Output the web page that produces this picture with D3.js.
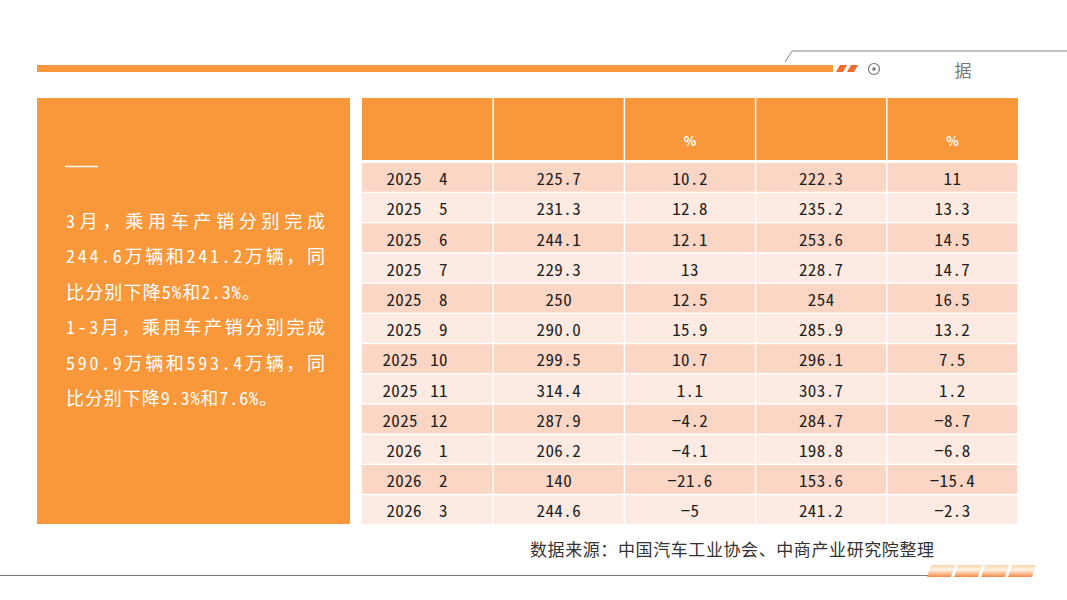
<!DOCTYPE html>
<html>
<head>
<meta charset="utf-8">
<script src="https://cdn.jsdelivr.net/npm/d3@7"></script>
<style>
  html, body { margin: 0; padding: 0; background: #fff; }
  svg { display: block; }
</style>
</head>
<body>
<svg id="slide"></svg>
<script>
// ===== DATA =====
const years     = ["2025","2025","2025","2025","2025","2025","2025","2025","2025","2026","2026","2026"];
const months    = ["4","5","6","7","8","9","10","11","12","1","2","3"];
const output    = ["225.7","231.3","244.1","229.3","250","290.0","299.5","314.4","287.9","206.2","140","244.6"];
const outputYoY = ["10.2","12.8","12.1","13","12.5","15.9","10.7","1.1","-4.2","-4.1","-21.6","-5"];
const sales     = ["222.3","235.2","253.6","228.7","254","285.9","296.1","303.7","284.7","198.8","153.6","241.2"];
const salesYoY  = ["11","13.3","14.5","14.7","16.5","13.2","7.5","1.2","-8.7","-6.8","-15.4","-2.3"];
const headers   = ["", "", "%", "", "%"];

// line width in px as it is set in the slide (justified lines are full width)
const summary = [
    { t: "3月，乘用车产销分别完成", w: 259 },
    { t: "244.6万辆和241.2万辆，同", w: 259 },
    { t: "比分别下降5%和2.3%。", w: 194 },
    { t: "1-3月，乘用车产销分别完成", w: 259 },
    { t: "590.9万辆和593.4万辆，同", w: 259 },
    { t: "比分别下降9.3%和7.6%。", w: 211 }
];
const sourceNote = "数据来源：中国汽车工业协会、中商产业研究院整理";
const cornerTitle = "据";

// ===== SETUP =====
const W = 1067, H = 600;
const ORANGE = "#f8983b";
const ROW_DARK = "#fbd6c5", ROW_LIGHT = "#fdeae2";
const monoFont = "'Noto Sans Mono CJK SC', 'Noto Sans CJK SC', sans-serif";
const cjkFont = "'Noto Sans CJK SC', sans-serif";

const svg = d3.select("#slide")
    .attr("width", W)
    .attr("height", H);

const defs = svg.append("defs");
const grad = defs.append("linearGradient")
    .attr("id", "tabGrad")
    .attr("x1", 0).attr("y1", 0).attr("x2", 0).attr("y2", 1);
grad.append("stop").attr("offset", "0%").attr("stop-color", "#fbd2a8");
grad.append("stop").attr("offset", "40%").attr("stop-color", "#fff4e6");
grad.append("stop").attr("offset", "100%").attr("stop-color", "#f58a45");

// ===== TOP DECORATION =====
svg.append("rect")
    .attr("x", 37).attr("y", 65)
    .attr("width", 796).attr("height", 7)
    .attr("fill", ORANGE);

// the two slashes after the bar
[836, 847].forEach(x0 => {
    svg.append("path")
        .attr("d", `M${x0 + 4},65 L${x0 + 11},65 L${x0 + 7},72 L${x0},72 Z`)
        .attr("fill", "#f26b2a");
});

svg.append("path")
    .attr("d", "M785,62 L792,51 L1067,51")
    .attr("fill", "none")
    .attr("stroke", "#888")
    .attr("stroke-width", 1);

svg.append("circle")
    .attr("cx", 874).attr("cy", 69).attr("r", 5.5)
    .attr("fill", "none").attr("stroke", "#777").attr("stroke-width", 1.2);
svg.append("circle")
    .attr("cx", 874).attr("cy", 69).attr("r", 1.8)
    .attr("fill", "#777");

svg.append("text")
    .attr("x", 963).attr("y", 69)
    .attr("text-anchor", "middle")
    .attr("dominant-baseline", "central")
    .attr("font-family", cjkFont)
    .attr("font-size", 17)
    .attr("fill", "#777")
    .text(cornerTitle);

// ===== LEFT SUMMARY BOX =====
svg.append("rect")
    .attr("x", 37).attr("y", 98)
    .attr("width", 313).attr("height", 426)
    .attr("fill", ORANGE);

svg.append("line")
    .attr("x1", 65).attr("x2", 98)
    .attr("y1", 166.5).attr("y2", 166.5)
    .attr("stroke", "#fff").attr("stroke-width", 1.3);

const lineY = d3.scaleLinear().domain([0, summary.length - 1]).range([220, 397]);

svg.append("g")
    .selectAll("text")
    .data(summary)
    .join("text")
    .attr("x", 66)
    .attr("y", (d, i) => lineY(i))
    .attr("dominant-baseline", "central")
    .attr("font-family", monoFont)
    .attr("font-size", 18)
    .attr("fill", "#fff")
    .attr("textLength", d => d.w)
    .attr("lengthAdjust", "spacing")
    .text(d => d.t);

// ===== TABLE =====
const rows = years.map((y, i) => ({
    year: y, month: months[i],
    cells: [null, output[i], outputYoY[i], sales[i], salesYoY[i]]
}));

const x = d3.scaleBand()
    .domain(d3.range(headers.length))
    .range([362, 1018]);

const y = d3.scaleBand()
    .domain(d3.range(rows.length))
    .range([162, 524.5]);

const table = svg.append("g");

// header
table.append("rect")
    .attr("x", 362).attr("y", 98)
    .attr("width", 656).attr("height", 62)
    .attr("fill", ORANGE);

table.selectAll("line.hsep")
    .data(d3.range(1, headers.length))
    .join("line")
    .attr("class", "hsep")
    .attr("x1", d => x(d)).attr("x2", d => x(d))
    .attr("y1", 98).attr("y2", 160)
    .attr("stroke", "#fff").attr("stroke-width", 1.5);

table.selectAll("text.head")
    .data(headers)
    .join("text")
    .attr("class", "head")
    .attr("x", (d, i) => x(i) + x.bandwidth() / 2)
    .attr("y", 140)
    .attr("text-anchor", "middle")
    .attr("dominant-baseline", "central")
    .attr("font-family", cjkFont)
    .attr("font-weight", "bold")
    .attr("font-size", 13)
    .attr("fill", "#fff")
    .text(d => d);

// body rows
const rowG = table.selectAll("g.row")
    .data(rows)
    .join("g")
    .attr("class", "row")
    .attr("transform", (d, i) => `translate(0,${y(i)})`);

rowG.selectAll("rect")
    .data((d, i) => d.cells.map(() => i))
    .join("rect")
    .attr("x", (d, j) => x(j) + (j === 0 ? 0 : 0.75))
    .attr("y", 1)
    .attr("width", (d, j) => x.bandwidth() - (j === 0 ? 0.75 : 1.5))
    .attr("height", y.bandwidth() - 1.5)
    .attr("fill", d => d % 2 === 0 ? ROW_DARK : ROW_LIGHT);

const cy = y.bandwidth() / 2 + 0.5;
const cellFont = 17;

// first column: year + month
rowG.append("text")
    .attr("x", d => 422 - (d.month.length - 1) * 4)
    .attr("y", cy)
    .attr("text-anchor", "end")
    .attr("dominant-baseline", "central")
    .attr("font-family", monoFont)
    .attr("font-size", cellFont)
    .attr("letter-spacing", 0.4)
    .attr("fill", "#1e1e1e")
    .text(d => d.year);

rowG.append("text")
    .attr("x", 448)
    .attr("y", cy)
    .attr("text-anchor", "end")
    .attr("dominant-baseline", "central")
    .attr("font-family", monoFont)
    .attr("font-size", cellFont)
    .attr("letter-spacing", 0.4)
    .attr("fill", "#1e1e1e")
    .text(d => d.month);

rowG.selectAll("text.val")
    .data(d => d.cells.slice(1).map((v, k) => ({ v, col: k + 1 })))
    .join("text")
    .attr("class", "val")
    .attr("x", d => x(d.col) + x.bandwidth() / 2)
    .attr("y", cy)
    .attr("text-anchor", "middle")
    .attr("dominant-baseline", "central")
    .attr("font-family", monoFont)
    .attr("font-size", cellFont)
    .attr("letter-spacing", 0.4)
    .attr("fill", "#1e1e1e")
    .text(d => d.v.replace("-", "−"));

// ===== SOURCE + BOTTOM DECORATION =====
svg.append("text")
    .attr("x", 530).attr("y", 548)
    .attr("dominant-baseline", "central")
    .attr("font-family", cjkFont)
    .attr("font-size", 17)
    .attr("fill", "#333")
    .attr("textLength", 404)
    .attr("lengthAdjust", "spacing")
    .text(sourceNote);

svg.append("line")
    .attr("x1", 0).attr("x2", 928)
    .attr("y1", 575.5).attr("y2", 575.5)
    .attr("stroke", "#777").attr("stroke-width", 1);

d3.range(4).forEach(k => {
    const x0 = 927 + k * 27;
    svg.append("path")
        .attr("d", `M${x0 + 4},565 L${x0 + 28},565 L${x0 + 24},577 L${x0},577 Z`)
        .attr("fill", "url(#tabGrad)");
});
</script>
</body>
</html>
